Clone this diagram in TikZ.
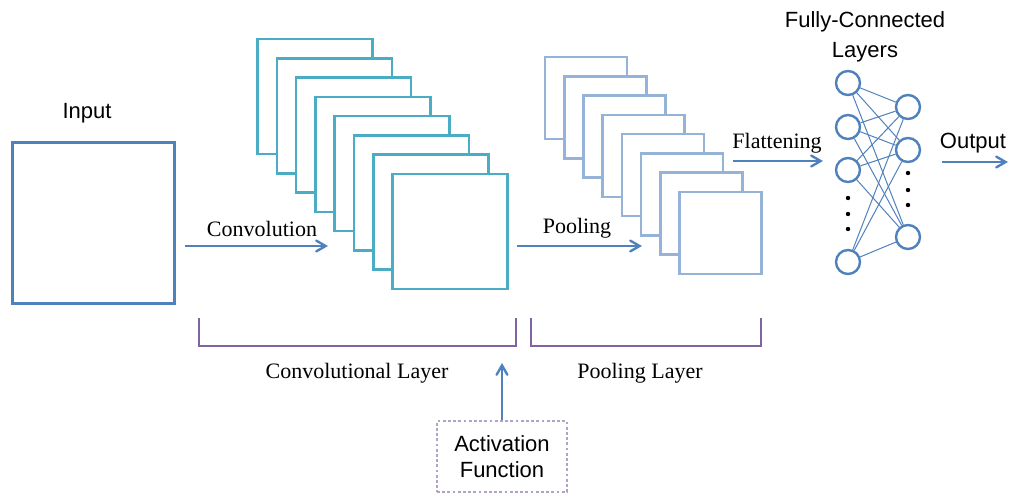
\documentclass[tikz,border=0pt]{standalone}
\usepackage{fontspec}
\setmainfont{Liberation Serif}
\setsansfont{Liberation Sans}
\usetikzlibrary{arrows}

\definecolor{inblue}{HTML}{4F81BD}
\definecolor{convteal}{HTML}{4BACC6}
\definecolor{poolblue}{HTML}{95B3D7}
\definecolor{layerpurple}{HTML}{8064A2}
\definecolor{actpurple}{HTML}{B3A2C7}

\begin{document}
\begin{tikzpicture}[x=0.5pt,y=-0.5pt,>=angle 60,
      inbox/.style={draw=inblue,line width=1.5pt,minimum width=81pt,minimum height=80.5pt},
      convmap/.style={draw=convteal,fill=white,line width=1.3pt,minimum size=57.5pt,inner sep=0pt},
      poolmap/.style={draw=poolblue,fill=white,line width=1.3pt,minimum size=41pt,inner sep=0pt},
      neuron/.style={circle,draw=inblue,fill=white,line width=1.2pt,minimum size=12pt,inner sep=0pt},
      flow/.style={->,draw=inblue,line width=1.2pt},
      link/.style={draw=inblue,line width=0.5pt},
      brace/.style={draw=layerpurple,line width=1pt},
      lbl/.style={font=\fontsize{11}{13}\selectfont},
      sflbl/.style={font=\sffamily\fontsize{11}{13}\selectfont}]
      \useasboundingbox (0,0) rectangle (1010,493);

      % input
      \node[inbox] (in) at (93,222.5) {};
      \node[sflbl] (inlbl) at (87,113) {Input};

      % convolution maps
      \node[convmap] (c1) at (315.0, 96.5) {};
      \node[convmap] (c2) at (334.3,115.8) {};
      \node[convmap] (c3) at (353.6,135.1) {};
      \node[convmap] (c4) at (372.9,154.4) {};
      \node[convmap] (c5) at (392.1,173.6) {};
      \node[convmap] (c6) at (411.4,192.9) {};
      \node[convmap] (c7) at (430.7,212.2) {};
      \node[convmap] (c8) at (450.0,231.5) {};

      % pooling maps
      \node[poolmap] (p1) at (586.0, 98.0) {};
      \node[poolmap] (p2) at (605.2,117.3) {};
      \node[poolmap] (p3) at (624.4,136.6) {};
      \node[poolmap] (p4) at (643.6,155.9) {};
      \node[poolmap] (p5) at (662.9,175.1) {};
      \node[poolmap] (p6) at (682.1,194.4) {};
      \node[poolmap] (p7) at (701.3,213.7) {};
      \node[poolmap] (p8) at (720.5,233.0) {};

      % fully connected
      \node[sflbl,align=center] (fclbl) at (865,37) {Fully-Connected\\[2pt]Layers};
      \node[neuron] (l1) at (848, 83) {};
      \node[neuron] (l2) at (848,127) {};
      \node[neuron] (l3) at (848,170) {};
      \node[neuron] (l4) at (848,262) {};
      \node[neuron] (r1) at (908,107) {};
      \node[neuron] (r2) at (908,150) {};
      \node[neuron] (r3) at (908,237) {};
      \fill (848,198) circle (1.1pt) (848,214) circle (1.1pt) (848,229) circle (1.1pt);
      \fill (908,173) circle (1.1pt) (908,190) circle (1.1pt) (908,205) circle (1.1pt);

      \path[link]
      (l1) edge (r1) (l1) edge (r2) (l1) edge (r3)
      (l2) edge (r1) (l2) edge (r2) (l2) edge (r3)
      (l3) edge (r1) (l3) edge (r2) (l3) edge (r3)
      (l4) edge (r1) (l4) edge (r2) (l4) edge (r3)
      ;

      % arrows between stages
      \coordinate (convs) at (185,246);
      \coordinate (conve) at (328,246);
      \coordinate (pools) at (517,246);
      \coordinate (poole) at (642,246);
      \coordinate (flats) at (733,161);
      \coordinate (flate) at (823,161);
      \coordinate (outs) at (942,162);
      \coordinate (oute) at (1008,162);
      \draw[flow] (convs) -- (conve);
      \draw[flow] (pools) -- (poole);
      \draw[flow] (flats) -- (flate);
      \draw[flow] (outs) -- (oute);
      \node[lbl] (convlbl) at (262,229) {Convolution};
      \node[lbl] (poollbl) at (577,228) {Pooling};
      \node[lbl] (flatlbl) at (777,143) {Flattening};
      \node[sflbl] (outlbl) at (973,143) {Output};

      % layer brackets
      \draw[brace] (199,318) |- (516,346) -- (516,318);
      \draw[brace] (531,318) |- (761,346) -- (761,318);
      \node[lbl] (convlay) at (357,373) {Convolutional Layer};
      \node[lbl] (poollay) at (640,373) {Pooling Layer};

      % activation
      \node[sflbl,align=center,draw=actpurple,line width=1.4pt,dash pattern=on 1.4pt off 1.2pt,
        minimum width=65pt,minimum height=35.5pt] (act) at (502,456.5)
        {Activation\\[0pt]Function};
      \coordinate (acte) at (502,363);
      \draw[flow] (act) -- (acte);
\end{tikzpicture}
\end{document}
